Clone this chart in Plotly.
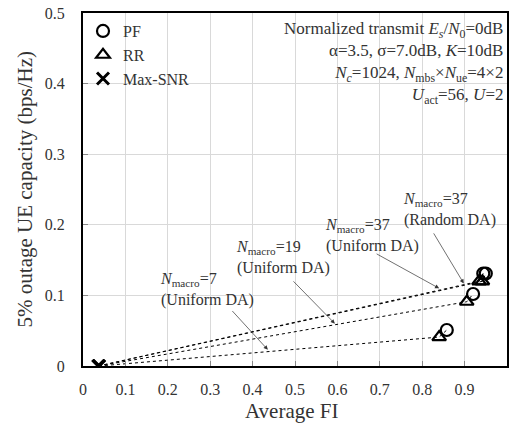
import plotly.graph_objects as go

# Data
configs = ["N7 Uniform", "N19 Uniform", "N37 Uniform", "N37 Random"]
maxsnr_fi = [0.038, 0.037, 0.036, 0.037]
maxsnr_cap = [0.0, 0.0, 0.0, 0.0]
rr_fi = [0.84, 0.905, 0.934, 0.942]
rr_cap = [0.041, 0.091, 0.120, 0.120]
pf_fi = [0.858, 0.920, 0.944, 0.950]
pf_cap = [0.051, 0.102, 0.131, 0.131]

ann_texts = [
    "<i>N</i><sub>macro</sub>=7<br>(Uniform DA)",
    "<i>N</i><sub>macro</sub>=19<br>(Uniform DA)",
    "<i>N</i><sub>macro</sub>=37<br>(Uniform DA)",
    "<i>N</i><sub>macro</sub>=37<br>(Random DA)",
]
ann_text_pos = [(0.178, 0.1085), (0.355, 0.154), (0.567, 0.185), (0.751, 0.2216)]
arrow_tail = [(0.349, 0.080), (0.493, 0.122), (0.689, 0.160), (0.825, 0.190)]
arrow_tip = [(0.436, 0.023), (0.594, 0.060), (0.840, 0.110), (0.898, 0.117)]

info_lines = [
    "Normalized transmit <i>E<sub>s</sub></i>/<i>N</i><sub>0</sub>=0dB",
    "α=3.5, σ=7.0dB, <i>K</i>=10dB",
    "<i>N<sub>c</sub></i>=1024, <i>N</i><sub>mbs</sub>×<i>N</i><sub>ue</sub>=4×2",
    "<i>U</i><sub>act</sub>=56, <i>U</i>=2",
]

x_ticks = [0, 0.1, 0.2, 0.3, 0.4, 0.5, 0.6, 0.7, 0.8, 0.9, 1]
x_ticklabels = ["0", "0.1", "0.2", "0.3", "0.4", "0.5", "0.6", "0.7", "0.8", "0.9", "1"]
y_ticks = [0, 0.1, 0.2, 0.3, 0.4, 0.5]
y_ticklabels = ["0", "0.1", "0.2", "0.3", "0.4", "0.5"]

FONT = "Liberation Serif, Times New Roman, serif"
TXT = "#333"

fig = go.Figure()

for i in range(len(configs)):
    fig.add_trace(go.Scatter(
        x=[maxsnr_fi[i], rr_fi[i], pf_fi[i]],
        y=[maxsnr_cap[i], rr_cap[i], pf_cap[i]],
        mode="lines", line=dict(color="black", width=1, dash="dot"),
        showlegend=False, hoverinfo="skip"))

fig.add_trace(go.Scatter(
    x=pf_fi, y=pf_cap, mode="markers", name="PF",
    marker=dict(symbol="circle-open", size=12, color="black", line=dict(width=2.2, color="black"))))
fig.add_trace(go.Scatter(
    x=rr_fi, y=rr_cap, mode="markers", name="RR",
    marker=dict(symbol="triangle-up-open", size=12, color="black", line=dict(width=2.2, color="black"))))
fig.add_trace(go.Scatter(
    x=maxsnr_fi, y=maxsnr_cap, mode="markers", name="Max-SNR",
    marker=dict(symbol="x-thin", size=12, color="black", line=dict(width=3, color="black"))))

annotations = []
for t, (tx, ty) in zip(ann_texts, ann_text_pos):
    annotations.append(dict(x=tx, y=ty, xref="x", yref="y", text=t, showarrow=False,
                            xanchor="left", yanchor="middle", align="left",
                            font=dict(family=FONT, size=16, color=TXT)))
for (ax_, ay_), (hx, hy) in zip(arrow_tail, arrow_tip):
    annotations.append(dict(x=hx, y=hy, xref="x", yref="y", ax=ax_, ay=ay_, axref="x", ayref="y",
                            text="", showarrow=True, arrowhead=2, arrowsize=1.2, arrowwidth=0.7,
                            arrowcolor="#333"))
annotations.append(dict(x=0.995, y=0.99, xref="paper", yref="paper", text="<br>".join(info_lines),
                        showarrow=False, xanchor="right", yanchor="top", align="right",
                        font=dict(family=FONT, size=17, color=TXT)))
# axis titles
annotations.append(dict(x=0.493, y=-0.127, xref="paper", yref="paper", text="Average FI",
                        showarrow=False, xanchor="center", yanchor="middle",
                        font=dict(family=FONT, size=21, color=TXT)))
annotations.append(dict(x=-0.137, y=0.5, xref="paper", yref="paper",
                        text="5% outage UE capacity (bps/Hz)", textangle=-90,
                        showarrow=False, xanchor="center", yanchor="middle",
                        font=dict(family=FONT, size=21, color=TXT)))

fig.update_layout(
    width=510, height=423,
    margin=dict(l=83, r=3, t=13, b=57, autoexpand=False),
    paper_bgcolor="white", plot_bgcolor="white",
    font=dict(family=FONT, size=16, color=TXT),
    showlegend=True,
    legend=dict(x=0.0, y=0.997, xanchor="left", yanchor="top", bgcolor="rgba(0,0,0,0)",
                font=dict(family=FONT, size=16, color=TXT), itemwidth=30, tracegroupgap=0),
    annotations=annotations,
)
fig.update_xaxes(range=[0, 1], tickvals=x_ticks, ticktext=x_ticklabels, automargin=False,
                 showgrid=True, gridcolor="#d9d9d9", gridwidth=1,
                 showline=True, linecolor="black", linewidth=2, mirror=True,
                 ticks="inside", ticklen=5, tickcolor="#888", zeroline=False,
                 ticklabelstandoff=8,
                 tickfont=dict(family=FONT, size=16, color=TXT))
fig.update_yaxes(range=[0, 0.5], tickvals=y_ticks, ticktext=y_ticklabels, automargin=False,
                 showgrid=True, gridcolor="#d9d9d9", gridwidth=1,
                 showline=True, linecolor="black", linewidth=2, mirror=True,
                 ticks="inside", ticklen=5, tickcolor="#888", zeroline=False,
                 ticklabelstandoff=13,
                 tickfont=dict(family=FONT, size=16, color=TXT))

fig.write_html("out.html", config={"displayModeBar": False},
               post_script="document.body.style.margin='0';document.body.style.overflow='hidden';")
